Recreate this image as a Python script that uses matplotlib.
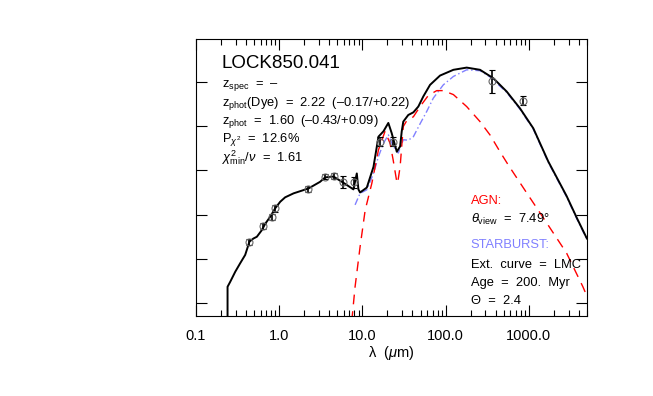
import numpy as np
import matplotlib
matplotlib.use("Agg")
import matplotlib.pyplot as plt
from matplotlib.ticker import FixedLocator, FuncFormatter, LogLocator, NullLocator

plt.rcParams['font.family'] = ['Liberation Sans', 'DejaVu Sans']
plt.rcParams['mathtext.fontset'] = 'custom'
plt.rcParams['mathtext.rm'] = 'Liberation Sans'
plt.rcParams['mathtext.it'] = 'Liberation Sans:italic'
plt.rcParams['mathtext.bf'] = 'Liberation Sans:bold'

# total model (black), wavelength in micron, log flux in tick units
tot_lam = [0.240, 0.240, 0.258, 0.297, 0.340, 0.391, 0.440, 0.491, 0.540, 0.620,
           0.679, 0.780, 0.895, 1.03, 1.18, 1.49, 2.25, 3.10, 3.57, 4.49, 5.91,
           7.80, 8.57, 8.96, 9.38, 11.3, 13.6, 15.6, 17.9, 20.5, 22.5, 25.9, 28.4,
           29.7, 31.0, 35.6, 41.0, 47.0, 54.0, 65.0, 85.7, 124, 179, 259, 374, 541,
           782, 1130, 1710, 2840, 3780, 4980]
tot_flux = [-0.5, 0.37, 0.48, 0.71, 0.90, 1.09, 1.39, 1.46, 1.50, 1.65,
            1.79, 1.95, 2.14, 2.29, 2.39, 2.48, 2.59, 2.74, 2.84, 2.86, 2.72,
            2.57, 2.93, 2.57, 2.50, 2.61, 3.08, 3.76, 3.88, 4.07, 3.84, 3.42, 3.54,
            3.88, 4.10, 4.25, 4.31, 4.44, 4.67, 4.93, 5.14, 5.27, 5.32, 5.27, 5.08, 4.78,
            4.40, 3.95, 3.20, 2.42, 1.92, 1.46]

# AGN component (red dashed)
agn_lam = [7.46, 8.17, 9.38, 10.8, 13.0, 15.6, 18.7, 21.5, 23.4, 25.9, 26.5, 28.4,
           31.0, 34.1, 41.0, 49.3, 61.9, 78.2, 93.8, 124, 179, 259, 341, 450, 566,
           942, 1640, 2840, 4460, 4980]
agn_flux = [-0.4, 0.37, 1.27, 2.10, 2.71, 3.46, 3.88, 3.61, 3.24, 2.74, 2.71, 3.08,
            3.99, 4.12, 4.21, 4.44, 4.69, 4.80, 4.80, 4.71, 4.44, 4.10, 3.80, 3.42, 3.12,
            2.49, 1.81, 1.13, 0.37, 0.16]

# starburst component (blue dash-dot)
sb_lam = [8.17, 9.38, 11.3, 13.6, 15.6, 17.9, 20.5, 23.5, 27.0, 31.0, 35.6, 41.0,
          49.3, 59.3, 71.1, 93.8, 124, 179, 259, 341, 541, 782, 1130, 1710, 2840,
          3780, 4980]
sb_flux = [2.22, 2.48, 2.56, 2.93, 3.31, 3.61, 3.80, 3.54, 3.39, 3.69, 3.68, 3.76,
           4.05, 4.33, 4.63, 4.93, 5.12, 5.27, 5.25, 5.11, 4.76, 4.38, 3.93, 3.18, 2.40,
           1.90, 1.44]

# photometry
obs_lam = [0.440, 0.648, 0.818, 0.895, 2.25, 3.57, 4.57, 5.82, 8.02, 16.3, 23.5, 357, 857]
obs_flux = [1.39, 1.74, 1.95, 2.14, 2.58, 2.86, 2.87, 2.74, 2.73, 3.65, 3.65, 5.01, 4.57]
obs_err = [0.07, 0.07, 0.07, 0.07, 0.07, 0.06, 0.06, 0.14, 0.12, 0.10, 0.10, 0.26, 0.10]

xticks = [0.1, 1.0, 10.0, 100.0, 1000.0]
xticklabels = ['0.1', '1.0', '10.0', '100.0', '1000.0']

fig = plt.figure(figsize=(6.53, 3.96), dpi=100)
ax = fig.add_axes([0.300, 0.202, 0.599, 0.700])

ax.plot(sb_lam, sb_flux, color='#8080ff', lw=1.0, dashes=(5, 2, 1, 2))
ax.plot(agn_lam, agn_flux, color='red', lw=1.0, dashes=(7, 5))
ax.plot(tot_lam, tot_flux, color='black', lw=1.4)
ax.errorbar(obs_lam, obs_flux, yerr=obs_err, fmt='o', ms=5, mfc='none',
            mec='0.4', mew=0.8, ecolor='black', elinewidth=1.2, capsize=2.5)

ax.set_xscale('log')
ax.set_xlim(0.1, 5000)
ax.set_ylim(-0.29, 5.97)
ax.xaxis.set_major_locator(FixedLocator(xticks))
ax.xaxis.set_major_formatter(FuncFormatter(lambda v, p: xticklabels[xticks.index(v)] if v in xticks else ''))
ax.xaxis.set_minor_locator(LogLocator(base=10, subs=np.arange(2, 10)))
ax.yaxis.set_major_locator(FixedLocator([0, 1, 2, 3, 4, 5]))
ax.yaxis.set_minor_locator(NullLocator())
ax.set_yticklabels([])
ax.tick_params(which='both', direction='in', top=True, right=True, width=0.8)
ax.tick_params(which='major', length=8, labelsize=10.5, pad=9)
ax.tick_params(which='minor', length=4)
for s in ax.spines.values():
    s.set_linewidth(0.8)
ax.set_xlabel(r'λ  ($\mu$m)', fontsize=10.5, labelpad=1)

tx = 0.066
ax.text(tx, 0.91, 'LOCK850.041', transform=ax.transAxes, fontsize=13.5, va='center')
left_lines = [r'z$_{\rm spec}$  =  –',
              r'z$_{\rm phot}$(Dye)  =  2.22  (–0.17/+0.22)',
              r'z$_{\rm phot}$  =  1.60  (–0.43/+0.09)',
              r'P$_{\chi^2}$  =  12.6%',
              r'$\chi^2_{\rm min}/\nu$  =  1.61']
for i, s in enumerate(left_lines):
    ax.text(tx, 0.832 - i * 0.065, s, transform=ax.transAxes, fontsize=9.3, va='center')

rx = 0.703
right_lines = [('AGN:', 'red'),
               (r'$\theta_{\rm view}$  =  7.49°', 'black'),
               ('STARBURST:', '#8080ff'),
               ('Ext.  curve  =  LMC', 'black'),
               ('Age  =  200.  Myr', 'black'),
               ('Θ  =  2.4', 'black')]
right_y = [0.415, 0.347, 0.256, 0.184, 0.119, 0.054]
for (s, c), yy in zip(right_lines, right_y):
    ax.text(rx, yy, s, transform=ax.transAxes, fontsize=9.3, color=c, va='center')

fig.savefig('out.png', dpi=100)
